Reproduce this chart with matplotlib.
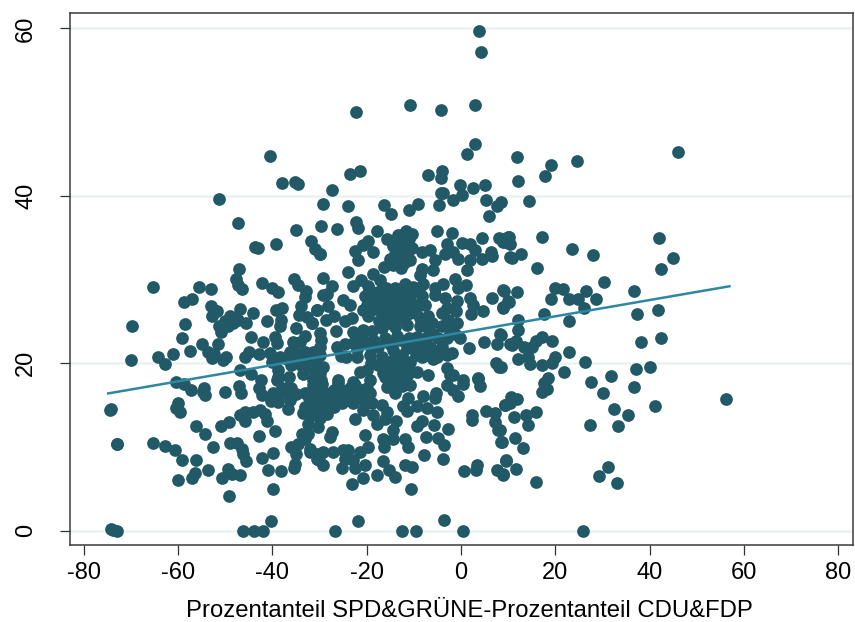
import matplotlib
matplotlib.use("Agg")
import matplotlib.pyplot as plt

# (x, y), roughly left to right by region
upper = [(3.8,59.7),(4.2,57.2),(-22.3,50),(-10.8,50.9),(-4.2,50.3),(3,50.9),(3,46.2),(1.3,45),(-40.5,44.8),(46,45.2),
(11.9,44.6),(24.6,44.2),(19.1,43.7),(-21.4,43),(-23.5,42.6),(-4,43),(-7,42.5),(-4.2,42.1),(17.8,42.4),(12.1,41.8),
(-38,41.5),(-35.2,41.7),(-34.6,41.4),(14.4,39.4),(-4.2,40.3)]

left_top = [(-51.3,39.6),(-47.3,36.8),(-35,35.9),(-39.2,34.3),(-43.7,33.9),(-43,33.8),(-31.9,34.6),(-31,33.7),(-30,33),
(-47.1,31.3),(-47.8,30.1),(-47.2,29.4),(-46.5,28.9),(-42.2,29.6),(-40,29),(-38.7,28.5),(-35.4,30.1),(-34.5,29.4),
(-32.8,28.6),(-33.1,27.9),(-65.4,29.1),(-55.6,29.1),(-53,28.9),(-57.1,27.7),(-58.7,27.3),(-53,26.9),(-51.8,26.3),
(-52.9,25.6),(-46.8,26.5),(-44.2,26),(-39.2,26.4),(-38,26.6),(-34,26.8),(-34.3,25.8),(-32.7,25.5),(-31.5,24.8),
(-30.6,26.4),(-38.2,25.2),(-38.4,24.4),(-41.2,25.1),(-35,24.2),(-69.8,24.5),(-58.5,24.7),(-49,25.6),(-50.1,25),
(-51.3,24.4),(-48.3,24.8),(-47.2,25.2),(-49.3,24.4),(-50.8,23.7),(-45.5,24.8),(-48.6,25.4),(-44.5,23.1),(-59.2,23),
(-39.4,23.2),(-39.1,22.4),(-41.9,22.6),(-33.1,23.3),(-34.2,22.6),(-35.7,22.5),(-54.9,22.3),(-51.5,22.3),(-57.5,21.5),
(-53.6,21.4),(-52.4,21.1),(-49.9,20.8),(-50.4,20.4),(-52.7,20.6),(-61,21.1),(-64.3,20.8),(-62.7,19.9),(-70,20.4),
(-45,21.4),(-45.8,20.8),(-42.8,21.1),(-40.5,21.2),(-40,20.2),(-38.4,20.7),(-36.3,21.4),(-35.2,21.2),(-33.1,21.4),
(-31.3,21.4),(-35.6,20.4),(-30.7,20),(-46.9,19.2),(-44.5,18.7),(-38.7,19.2),(-36.4,18.4),(-33.4,18.7),(-42.4,18),
(-38.7,18.4),(-60.4,17.8),(-31.3,18)]

left_low = [(-58.7,17.5),(-57.3,16.8),(-54.5,17.1),(-54.6,16.6),(-54.3,16.2),(-50.1,16.6),(-47.1,17.3),(-46.7,16.5),
(-42.8,17),(-42.3,16.2),(-39.8,16.4),(-40.3,15.5),(-38.7,15.4),(-37,17),(-35.9,16.2),(-35,16.3),(-36.3,15.6),
(-31.3,17.4),(-31.7,16.6),(-32.2,15.8),(-36.6,14.5),(-33.4,14.1),(-30.6,14.8),(-31,13.8),(-32.4,12.8),(-74.4,14.4),
(-74.2,14.5),(-60.1,15.3),(-60.5,14.6),(-59.6,14.2),(-46.9,13.8),(-45.8,14.2),(-45.8,13.1),(-44,14.2),(-42.6,14.4),
(-41.6,14),(-41.2,13.1),(-49.2,13),(-50.8,12.5),(-56.1,12.5),(-54.3,11.6),(-39.4,11.9),(-42.8,11.3),(-33.8,11.6),
(-32.4,11.6),(-72.9,10.3),(-72.9,10.4),(-65.3,10.5),(-62.8,10.1),(-60.7,9.6),(-52.5,10),(-49,10.5),(-47.4,10.5),
(-46.5,9.8),(-46.2,9.2),(-36.1,10),(-34.5,10.4),(-32,9.8),(-30.6,9.2),(-35,9.2),(-30.2,8.4),(-39.8,9.3),(-42.3,8.7),
(-56.2,8.5),(-59.1,8.4),(-45.6,8.3),(-35.2,8),(-35.4,7.5),(-53.6,7.2),(-49.5,7.4),(-48.5,6.8),(-46.9,6.6),(-50.7,6.3),
(-56.3,6.9),(-57.1,6.3),(-59.9,6),(-40.9,7.2),(-38.1,7.1),(-39.9,5),(-49.1,4.2),(-74.3,0.2),(-73,0),(-73.7,0.1),
(-46.2,0),(-43.9,0),(-41.9,0),(-40.2,1.1)]

mid_top = [(-27.4,40.7),(-29.2,39),(-23.9,38.8),(-16.3,38.9),(-14.8,37.8),(-11,38.3),(-9.2,39),(-4.7,38.9),(-3.9,40.3),
(-1.8,39.5),(0.1,40.1),(-0.2,41.3),(2.5,41),(5,41.3),(5.4,39.5),(8.4,39.3),(7.6,38.8),(5.9,37.6),(-29.7,36.4),(-26.3,36.1),
(-22.3,36.9),(-21.9,36.2),(-17.8,35.8),(-5,35.8),(-2,35.6),(-29.8,33),(-19.7,34.6),(-20.7,34.1),(-22.5,33.4),(-21.8,32.3),
(-18.6,33.3),(-15.6,34.9),(-13.3,35.3),(-11.7,35.8),(-10.5,35.5),(-12.2,34.9),(-13.3,34.3),(-11.5,34.3),(-13.6,33.7),
(-11.2,33.5),(-12.6,32.9),(-15.1,32.5),(-16.3,31.5),(-13.6,32.1),(-10.8,32.3),(-8.3,33.3),(-6.6,33.5),(-5.5,32.3),
(-5.9,31.1),(-8.3,31.3),(-8.7,30.5),(-8,29.5),(-3,34.3),(-3.4,33.1),(-1.6,33.3),(-0.6,32.5),(0.1,34.4),(1.9,34.3),
(3,33.5),(4.4,35),(4.4,32.5),(1.9,32.3),(1.2,31.1),(6.3,33.3),(6.6,32.8),(8.1,35),(9,34.5),(10.2,35.1),(10.4,32.7),
(-24,30.9),(-29.3,30.2),(-27.4,29.2),(-29.2,28.2),(-28.4,28.3),(-23,29.2),(-21.3,29.9),(-18.6,30.7),(-17.2,29.9),
(-19.7,29.2),(-20.4,28),(-18.6,28.4),(-16.8,28.8),(-15.8,28),(-14,29),(-11.9,29.5),(-10.1,29.1),(-13.3,28),(-10.8,28),
(-8.3,28),(-7.6,27),(-5.5,29),(-3.9,29.5),(-1.3,30.1),(-0.6,29),(1,29.4),(-5.5,28.2),(-3.4,27.8),(-0.9,27.4),(1.9,27.8),
(2.6,27),(2.1,25.9),(4.6,26.2),(6.5,27.8),(9,28.7),(8.8,26.6),(10,27.4),(-25.1,27.6),(-30.5,26.4),(-28.3,26.8),(-23.5,27),
(-26.9,25.6),(-28.6,25.2),(-31.5,24.8),(-26.6,23.9),(-23.2,25.4),(-24.6,25),(-19.7,25.6),(-16.5,25.6),(-15.1,26.2),
(-13,26.8),(-16.8,27),(-18.6,27),(-10.8,26),(-8.7,25.4),(-6.9,25.6),(-4.1,26),(-3,26.6),(-1.1,26.2),(-0.9,24.8),(-2.7,25.2),
(-11.5,24.6),(-8.7,24.4),(-4.1,24.4),(-6.2,24.8),(-22.8,23.7),(-20.7,24),(-18.9,23.9),(-16.8,24.2),(-29.9,23.6),(-29.6,22.8),
(-26.4,22),(-24.6,22.3),(-22.8,22.4),(-20.7,22.4),(-18.6,22.8),(-16.1,23),(-12.9,22.8),(-9.4,23.2),(-7.3,23.2),(-4.8,23),
(-29.9,22),(-2,21.2),(-4.1,22),(-0.2,23),(1.7,21.8),(4.9,22.5),(8.2,23.5),(7.7,22.3),(10.4,22.3),(-24.4,20.7),(-22.1,20.8),
(-19.3,21),(-16.8,20.8),(-14.4,21.6),(-11.5,21.8),(-8.3,20.8),(-5.9,20.5),(-14.4,20.4),(-10.8,20.2),(-31.3,20.4),(-29.2,19.6),
(7.4,20),(8.1,19.5),(-21.4,19),(-19.9,19.2),(-16.5,18.8),(-14.4,19.4),(-11.5,18.6),(-9.3,18.9),(-7.1,18.6),(-3,19.4),
(-1.6,18.6),(3.7,18.2),(-26,18),(-29.6,18),(0.5,18),(-22.8,17.8)]

mid_low = [(-19.3,18),(-16.1,18.4),(-15.8,17.2),(-14,16.4),(-11.9,18.4),(-10.8,17.4),(-13.6,17.8),(-31,17.8),(-29.4,17.5),
(-31.3,16.4),(-27.8,16.4),(-26,17.6),(-26,16.2),(-22.5,17.4),(-22.8,15.2),(-22.1,16),(-25.3,15.2),(-19.3,16.4),(-18.9,15.2),
(-20.7,14.4),(-27.8,15),(-29.9,14.8),(-28.5,14),(-31,14.2),(-16.8,15),(-15.8,14.2),(-18.6,13.8),(-17.9,12.8),(-22.5,13.3),
(-13.8,13.1),(-16.1,13.4),(-11.2,15.8),(-12.2,14.9),(-11.4,14.3),(-9.4,14.9),(-8.1,16.1),(-7.3,14.6),(-5.3,16.4),(-5.5,15.8),
(-5.2,14.2),(-3,17.4),(-1.6,16.8),(-0.7,16.1),(0.4,17.5),(3.7,18.1),(4.1,17.3),(-2.3,18.6),(-8.3,13.1),(-9.4,12.5),(-5.7,12.6),
(-2.8,12.1),(-14.4,12),(-14.4,10.9),(-27.3,11.8),(-27.8,11.2),(-20.4,11.4),(-16.5,11),(-16.3,10),(-11.9,10.9),(-11.3,10),
(-7.5,11.2),(-4.8,11.1),(-3.6,10.2),(-32,9.4),(-30.6,8.6),(-29.2,9.4),(-29.2,7.8),(-27.1,9.4),(-25.3,7.5),(-25,9.6),(-23.9,9.6),
(-24.6,8.6),(-21.4,9.4),(-19.7,10),(-22.8,8.4),(-20.4,7.8),(-22.5,7.5),(-7.9,9.1),(-3.9,8.6),(-16.5,8.3),(-11.9,7.9),(-10.3,7.6),
(-15.2,7.2),(-13.9,6.4),(-17.9,6.6),(-20.7,6.3),(-23.2,5.6),(-10.6,5),(2.3,13.8),(2.3,13.2),(5.2,14.3),(7.2,14.1),(7.3,13),
(7.9,12),(8.4,10.6),(9.5,8.4),(10.4,15.2),(9.3,15),(0.7,7.1),(3.3,7.8),(3.2,7.2),(7.6,7.2),(9,6.8),(-21.8,1.1),(-3.7,1.3),
(-26.7,0),(-12.5,0),(-9.6,0),(0.4,0)]

right = [(17.1,35.1),(42,35),(23.5,33.7),(27.9,32.9),(45,32.6),(42.4,31.3),(10,35.1),(8.6,34.9),(9.3,34.5),(10.4,34.2),(12.7,33),
(10.9,32.6),(16.2,31.4),(30.4,29.7),(20,29),(21.7,28.9),(26.4,28.6),(36.7,28.6),(11.8,28.5),(9.1,28.6),(19,27.7),(22.9,27.7),
(24.7,27.7),(28.6,27.7),(10.2,27.3),(9,26.7),(26.1,26.6),(41.8,26.4),(37.4,25.9),(17.6,25.9),(22.8,25),(12,25.2),(12,24),
(8.5,23.4),(17.1,23.2),(42.5,23),(38.2,22.6),(19.2,22.7),(11.6,22.7),(10.9,22.2),(16,22.7),(13.4,22),(15.1,21.9),(22.9,21.4),
(14.3,20.8),(12,20.5),(20,20.8),(19.2,20),(17.1,19.8),(14.6,19.9),(26.2,20.2),(21.8,19),(8.5,19.6),(37.2,19.3),(40.1,19.6),
(31.7,18.5),(27.6,17.8),(18.4,18.3),(17.5,17.6),(18.2,16.9),(17.1,16.6),(36.6,17.2),(30,16.5),(56.2,15.7),(10.5,16),(11.8,15.7),
(9.3,15),(41.2,14.9),(32.4,14.5),(16,14.2),(11.2,13.6),(13.7,13.8),(35.4,13.8),(14.1,12.6),(27.4,12.6),(33.2,12.5),(8.3,12),
(8.6,10.6),(11.5,11.1),(13.2,9.9),(9.5,8.3),(9,6.7),(11.7,7.4),(31.2,7.6),(29.3,6.5),(33,5.7),(15.8,5.8),(25.9,0)]

# points inside the dense blobs, where single dots cannot be told apart
dense = [(-19,27.8),(-17.5,28.5),(-16,29),(-17,27.5),(-15,27.5),(-18,26.5),(-16,26),(-14.5,25),(-13,27.5),(-12,28.5),(-12,27),
(-11,26.8),(-9.5,27),(-9.5,26),(-13,26),(-15,24.8),(-14,24.3),(-17.3,25),(-12,25.3),(-9,28.8),(-20,27),(-20.7,26.4),(-19.5,28.9),
(-14.5,34),(-12.5,33.7),(-14,33),(-11.5,33),(-12,32),(-14.5,31.7),(-12,35.5),(-11,34.8),(-12.8,31.4),(-10.5,33.8),
(-30,16.5),(-29,15.6),(-30.5,15),(-28,15.8),(-27,16.8),(-26.5,15.5),(-24.5,16.7),(-24,15.8),(-23.5,17),(-21,16.8),(-20.5,15.5),
(-21.5,15.8),(-20,17),(-25.5,16.7),(-27,14.8),(-32,15.5),(-33,14.8),(-15,18.8),(-13,19),(-12.5,17.3),(-11,18.8),(-15.5,18),
(-21,23),(-19,22),(-17.5,22),(-15,22.3),(-13.5,23.3),(-11,23),(-10,22),(-8.5,22),(-6.5,22),(-5.5,21.5),(-3,21),(-5,20.7),(-7,21),
(-9.5,21),(-12.5,21),(-13,20.7),(-17.5,19.8),(-12.5,19.5),(-15.5,20),(-19,20),(-22,21.7),(-25.5,20.9),(-3,23),(-6,23.5),(-2.3,24),
(-1.2,23.5),(-7,24.3),(-32,21),(-30,21),(-31,19),(-33,20.8),(-30,18.8),(-33,19.6),(-34.5,20.8),(-37,20.5),(-36,19.8),(-34,19.8),
(-36,17),(-38,17),(-39,18),(-38,16.5),(-33,16.4),(-31,15.6),(-30,15.4),(-30,13.5),(-32,13.8),(-30.3,12.4),(-33,11)]

fit_x = [-74.8, 56.9]
fit_y = [16.4, 29.2]
x_ticks = [-80, -60, -40, -20, 0, 20, 40, 60, 80]
y_ticks = [0, 20, 40, 60]
x_title = "Prozentanteil SPD&GRÜNE-Prozentanteil CDU&FDP"

plt.rcParams['font.family'] = ['Liberation Sans', 'DejaVu Sans']

points = upper + left_top + left_low + mid_top + mid_low + right + dense
xs = [p[0] for p in points]
ys = [p[1] for p in points]

fig = plt.figure(figsize=(8.55, 6.22), dpi=100)
ax = fig.add_axes([70/855, 1-545/622, (853-70)/855, (545-13)/622])
ax.scatter(xs, ys, s=84, color='#215967', linewidths=0, zorder=3)
ax.plot(fit_x, fit_y, color='#2e87a3', linewidth=1.8, zorder=4)

ax.set_xlim(-82.9, 83.1)
ax.set_ylim(-1.71, 61.85)
ax.set_xticks(x_ticks)
ax.set_yticks(y_ticks)
ax.set_xticklabels([str(t) for t in x_ticks])
ax.set_yticklabels([str(t) for t in y_ticks], rotation=90, va='center')
ax.grid(axis='y', color='#eaf2f3', linewidth=1.8, zorder=1)
ax.set_axisbelow(True)
ax.tick_params(length=7.2, width=0.9, labelsize=17, color='#333333')
ax.tick_params(axis='x', pad=5)
ax.tick_params(axis='y', pad=16.5)
fig.text(469/855, 1-617/622, x_title, fontsize=17.2, ha='center', va='baseline')
for s in ax.spines.values():
    s.set_linewidth(1.1)
    s.set_color('#3a3a3a')

fig.savefig('out.png', dpi=100)
